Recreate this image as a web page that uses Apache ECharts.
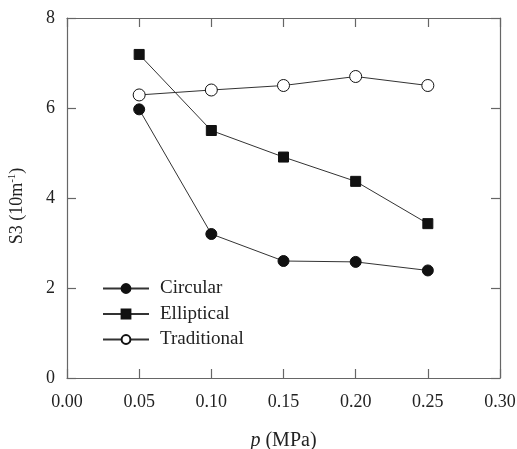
<!DOCTYPE html>
<html>
<head>
<meta charset="utf-8">
<script src="https://cdn.jsdelivr.net/npm/echarts@6/dist/echarts.min.js"></script>
<style>
  html, body { margin: 0; padding: 0; background: #fff; }
  #demo { width: 517px; height: 449px; }
</style>
</head>
<body>
<div id="demo"></div>
<script>
var pressure = [0.05, 0.10, 0.15, 0.20, 0.25];
var circular = [5.97, 3.20, 2.60, 2.58, 2.39];
var elliptical = [7.19, 5.50, 4.91, 4.37, 3.43];
var traditional = [6.29, 6.40, 6.50, 6.70, 6.50];
var names = ['Circular', 'Elliptical', 'Traditional'];

function pairs(ys) {
    return pressure.map(function (x, i) { return [x, ys[i]]; });
}

var myChart = echarts.init(document.getElementById('demo'));
var font = 'Liberation Serif';
var axisColor = '#666';

// 坐标轴公共样式（刻度朝内）
function axisStyle(showLabel) {
    return {
        axisLine: { show: true, onZero: false, lineStyle: { color: axisColor, width: 1.2 } },
        axisTick: { show: true, inside: true, length: 9, lineStyle: { color: axisColor, width: 1.2 } },
        axisLabel: { show: showLabel, color: '#222', fontFamily: font, fontSize: 18 },
        splitLine: { show: false }
    };
}

var xBottom = Object.assign(axisStyle(true), {
    type: 'value', position: 'bottom', min: 0, max: 0.3, interval: 0.05,
    name: '{i|p} (MPa)', nameLocation: 'middle', nameGap: 53,
    nameTextStyle: {
        fontFamily: font, fontSize: 20, color: '#222',
        rich: { i: { fontFamily: font, fontSize: 20, fontStyle: 'italic', color: '#222' } }
    }
});
xBottom.axisLabel.margin = 15;
xBottom.axisLabel.formatter = function (v) { return v.toFixed(2); };

var xTop = Object.assign(axisStyle(false), {
    type: 'value', position: 'top', min: 0, max: 0.3, interval: 0.05
});

var yLeft = Object.assign(axisStyle(true), {
    type: 'value', position: 'left', min: 0, max: 8, interval: 2,
    name: 'S3 (10m{s|-1})', nameLocation: 'middle', nameGap: 40,
    nameTextStyle: {
        fontFamily: font, fontSize: 18, color: '#222', padding: [0, 16, 0, 0],
        rich: { s: { fontFamily: font, fontSize: 11, color: '#222', verticalAlign: 'top', padding: [0, 0, 9, 0] } }
    }
});
yLeft.axisLabel.margin = 12;

var yRight = Object.assign(axisStyle(false), {
    type: 'value', position: 'right', min: 0, max: 8, interval: 2
});

function line(name, data, symbol, size, fill) {
    return {
        name: name,
        type: 'line',
        xAxisIndex: 0,
        yAxisIndex: 0,
        data: pairs(data),
        symbol: symbol,
        symbolSize: size,
        showAllSymbol: true,
        lineStyle: { color: '#333', width: 1 },
        itemStyle: { color: fill, borderColor: '#111', borderWidth: 1 },
        emphasis: { disabled: true },
        z: 3
    };
}

var option = {
    animation: false,
    backgroundColor: '#fff',
    grid: { left: 67, right: 17, top: 18, bottom: 71, outerBoundsMode: 'none' },
    legend: {
        orient: 'vertical',
        left: 97,
        top: 274,
        itemWidth: 46,
        itemHeight: 11,
        itemGap: 6.5,
        data: names,
        textStyle: { fontFamily: font, fontSize: 19, color: '#222', lineHeight: 19, padding: [0, 0, 0, 6] }
    },
    xAxis: [xBottom, xTop],
    yAxis: [yLeft, yRight],
    series: [
        line(names[0], circular, 'circle', 11, '#111'),
        line(names[1], elliptical, 'rect', 10, '#111'),
        line(names[2], traditional, 'circle', 12, '#fff')
    ]
};
myChart.setOption(option);
</script>
</body>
</html>
